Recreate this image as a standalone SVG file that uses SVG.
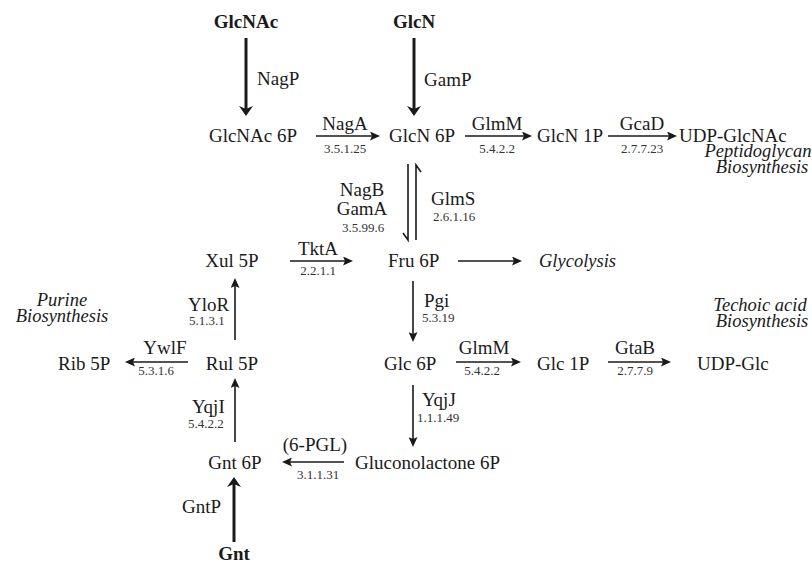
<svg xmlns="http://www.w3.org/2000/svg" width="812" height="566" viewBox="0 0 812 566" font-family="'Liberation Serif', 'DejaVu Serif', serif">
<style>
text{font-family:'Liberation Serif','DejaVu Serif',serif;fill:#1a1a1a}
.m{font-size:19px}
.b{font-size:19px;font-weight:bold}
.e{font-size:19px}
.ec{font-size:13px;fill:#333}
.i{font-size:18.5px;font-style:italic}
.c{text-anchor:middle}
.thin{stroke:#1a1a1a;stroke-width:1.6;fill:none;marker-end:url(#ah)}
.thick{stroke:#1a1a1a;stroke-width:3;fill:none;marker-end:url(#th)}
.h{stroke:#1a1a1a;stroke-width:1.6;fill:none}
</style>
<defs>
<marker id="ah" markerUnits="userSpaceOnUse" viewBox="0 0 10 9" refX="2" refY="4.5" markerWidth="10" markerHeight="9" orient="auto">
<path d="M0,0 L10,4.5 L0,9 L2,4.5 z" fill="#1a1a1a"/>
</marker>
<marker id="th" markerUnits="userSpaceOnUse" viewBox="0 0 10 14" refX="3" refY="7" markerWidth="10" markerHeight="14" orient="auto">
<path d="M0,0 L10,7 L0,14 L3,7 z" fill="#1a1a1a"/>
</marker>
</defs>
<rect width="812" height="566" fill="#fff"/>

<g id="connectors">
<line class="thick" x1="246" y1="38" x2="246" y2="109"/>
<line class="thick" x1="414" y1="38" x2="414" y2="109"/>
<line class="thin" x1="316" y1="136" x2="372" y2="136"/>
<line class="thin" x1="465" y1="136" x2="524" y2="136"/>
<line class="thin" x1="608" y1="136" x2="669" y2="136"/>
<polyline class="h" points="408,164 408,240 403,233"/>
<polyline class="h" points="416,240 416,165 421,172"/>
<line class="thin" x1="290" y1="261" x2="345" y2="261"/>
<line class="thin" x1="458" y1="261" x2="514" y2="261"/>
<line class="thin" x1="413" y1="281" x2="413" y2="334"/>
<line class="thin" x1="235" y1="340" x2="235" y2="286"/>
<line class="thin" x1="188" y1="362" x2="133" y2="362"/>
<line class="thin" x1="456" y1="362" x2="513" y2="362"/>
<line class="thin" x1="608" y1="362" x2="663" y2="362"/>
<line class="thin" x1="235" y1="442" x2="235" y2="386"/>
<line class="thin" x1="413" y1="385" x2="413" y2="439"/>
<line class="thin" x1="344" y1="462" x2="290" y2="462"/>
<line class="thick" x1="234" y1="542" x2="234" y2="484"/>
</g>

<g id="labels">
<text class="e" x="257" y="85">NagP</text>
<text class="e" x="424" y="86">GamP</text>
<text class="e c" x="345" y="130">NagA</text>
<text class="ec c" x="345" y="153">3.5.1.25</text>
<text class="e c" x="497" y="130">GlmM</text>
<text class="ec c" x="497" y="153">5.4.2.2</text>
<text class="e c" x="642" y="130">GcaD</text>
<text class="ec c" x="642" y="153">2.7.7.23</text>
<text class="e c" x="362" y="196">NagB</text>
<text class="e c" x="362" y="215">GamA</text>
<text class="ec c" x="363" y="232">3.5.99.6</text>
<text class="e" x="431" y="205">GlmS</text>
<text class="ec" x="433" y="221">2.6.1.16</text>
<text class="e c" x="318" y="255">TktA</text>
<text class="ec c" x="318" y="275">2.2.1.1</text>
<text class="e" x="424" y="307">Pgi</text>
<text class="ec" x="422" y="322">5.3.19</text>
<text class="e" x="188" y="311">YloR</text>
<text class="ec" x="189" y="325">5.1.3.1</text>
<text class="e c" x="165" y="354">YwlF</text>
<text class="ec c" x="156" y="375">5.3.1.6</text>
<text class="e c" x="484" y="354">GlmM</text>
<text class="ec c" x="482" y="375">5.4.2.2</text>
<text class="e c" x="635" y="354">GtaB</text>
<text class="ec c" x="635" y="375">2.7.7.9</text>
<text class="e" x="192" y="413">YqjI</text>
<text class="ec" x="188" y="428">5.4.2.2</text>
<text class="e" x="422" y="406">YqjJ</text>
<text class="ec" x="417" y="422">1.1.1.49</text>
<text class="e c" x="315" y="451">(6-PGL)</text>
<text class="ec c" x="318" y="479">3.1.1.31</text>
<text class="e" x="182" y="513">GntP</text>
</g>

<g id="GlcNAc"><text class="b c" x="246" y="28">GlcNAc</text></g>
<g id="GlcN"><text class="b c" x="414" y="28">GlcN</text></g>
<g id="GlcNAc6P"><text class="m c" x="253" y="142">GlcNAc 6P</text></g>
<g id="GlcN6P"><text class="m" x="389" y="142">GlcN 6P</text></g>
<g id="GlcN1P"><text class="m" x="537" y="142">GlcN 1P</text></g>
<g id="UDPGlcNAc"><text class="m" x="679" y="142">UDP-GlcNAc</text></g>
<g id="Peptidoglycan"><text class="i c" x="758" y="157">Peptidoglycan</text><text class="i c" x="762" y="173">Biosynthesis</text></g>
<g id="Xul5P"><text class="m c" x="232" y="267">Xul 5P</text></g>
<g id="Fru6P"><text class="m" x="388" y="267">Fru 6P</text></g>
<g id="Glycolysis"><text class="i" x="539" y="267">Glycolysis</text></g>
<g id="Purine"><text class="i c" x="62" y="306">Purine</text><text class="i c" x="62" y="322">Biosynthesis</text></g>
<g id="Techoic"><text class="i c" x="760" y="311">Techoic acid</text><text class="i c" x="762" y="327">Biosynthesis</text></g>
<g id="Rib5P"><text class="m" x="58" y="370">Rib 5P</text></g>
<g id="Rul5P"><text class="m c" x="232" y="370">Rul 5P</text></g>
<g id="Glc6P"><text class="m" x="384" y="370">Glc 6P</text></g>
<g id="Glc1P"><text class="m" x="537" y="370">Glc 1P</text></g>
<g id="UDPGlc"><text class="m" x="697" y="370">UDP-Glc</text></g>
<g id="Gnt6P"><text class="m c" x="235" y="469">Gnt 6P</text></g>
<g id="Gluconolactone6P"><text class="m" x="355" y="469">Gluconolactone 6P</text></g>
<g id="Gnt"><text class="b c" x="234" y="560">Gnt</text></g>
</svg>
